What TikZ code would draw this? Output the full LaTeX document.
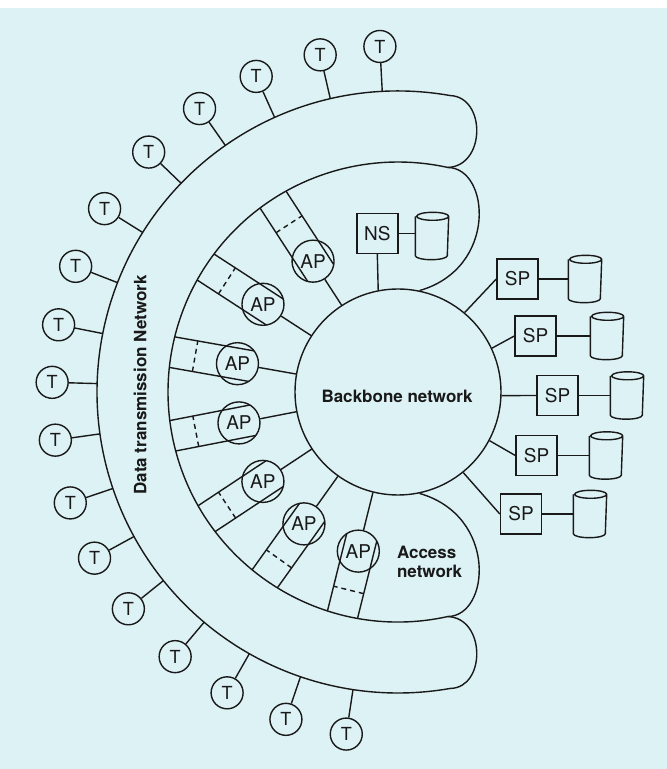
\documentclass[tikz,border=0pt]{standalone}
\usepackage{fontspec}
\setmainfont{TeX Gyre Heros}
\usetikzlibrary{shapes.geometric,calc}
\definecolor{bgc}{RGB}{221,242,245}
\definecolor{ink}{RGB}{25,25,25}
\newcommand\dbcyl[1]{%
  \draw ([yshift=-4pt]#1.north west) -- ([yshift=4pt]#1.south west)
    arc[start angle=180,end angle=360,x radius=16pt,y radius=4pt]
    -- ([yshift=-4pt]#1.north east)
    arc[start angle=0,end angle=360,x radius=16pt,y radius=4pt];}
\begin{document}
\begin{tikzpicture}[x=1pt,y=1pt,line width=1.4pt,color=ink,
  tnode/.style={circle,draw,minimum size=32pt,inner sep=0pt,font=\fontsize{18}{18}\selectfont},
  apnode/.style={circle,draw,minimum size=42pt,inner sep=0pt,font=\fontsize{19}{19}\selectfont},
  boxnode/.style={rectangle,draw,minimum width=41pt,minimum height=40pt,inner sep=0pt,font=\fontsize{19}{19}\selectfont},
  dbnode/.style={rectangle,minimum width=32pt,minimum height=46pt,inner sep=0pt,outer sep=0.7pt},
  lbl/.style={font=\bfseries\fontsize{17}{19}\selectfont},
  crossbar/.style={dash pattern=on 5pt off 4pt}]
\useasboundingbox (0,0) rectangle (667,769);
\fill[bgc] (0,0) rectangle (667,769);
\fill[white] (0,761) rectangle (667,769);
\coordinate (O) at (398,377);
% backbone
\node[circle,draw,minimum size=206pt,inner sep=0pt] (bb) at (O) {};
\node[lbl] (bblabel) at (397,373) {Backbone network};
% band
\coordinate (otop) at (450.27,673.43);
\coordinate (obot) at (450.27,80.57);
\coordinate (itop) at (447.78,601.55);
\coordinate (ibot) at (447.78,152.45);
\draw (otop) arc[start angle=80,end angle=280,radius=301]
  .. controls (486,81) and (486,151) .. (ibot)
  arc[start angle=282.5,end angle=77.5,radius=230]
  .. controls (486,603) and (486,672) .. (otop);
% access lobes
\draw (itop) .. controls (490,601) and (498,501) .. (bb.78);
\draw (bb.-78) .. controls (498,253) and (490,153) .. (ibot);
\node[lbl,rotate=90] (dtn) at (140,384) {Data transmission Network};
\node[lbl,align=left,anchor=west] (acc) at (393,207) {Access\\network};
% terminals
\foreach \i/\a in {1/93,2/103,3/114.2,4/125,5/136.1,6/148,7/158.7,8/168.8,9/178.4,10/188,11/198.7,12/208.7,13/218.8,14/229.9,15/240.4,16/251.1,17/261.4}{
  \node[tnode] (t\i) at ($(O)+(\a:346)$) {T};
  \coordinate (c\i) at ($(O)+(\a:301)$);
  \draw (t\i) -- (c\i);
}
% access points
\foreach \n/\a/\d/\q in {A/123/156/200,B/147/161/204,C/170/163/206,D/191/162/206,E/213.5/162/205,F/234.5/162/205,G/256/164/204}{
  \begin{scope}[shift={(O)},rotate=\a]
    \node[apnode] (ap\n) at (\d,0) {AP};
    \coordinate (ua\n) at (229.4,15.5);
    \coordinate (la\n) at (229.4,-15.5);
    \coordinate (ub\n) at ({\d-14.17},15.5);
    \coordinate (lb\n) at ({\d-14.17},-15.5);
    \coordinate (du\n) at (\q,15.5);
    \coordinate (dl\n) at (\q,-15.5);
    \coordinate (bc\n) at (103.6,0);
    \draw (ua\n) -- (ub\n);
    \draw (la\n) -- (lb\n);
    \draw[crossbar] (du\n) -- (dl\n);
    \draw (ap\n) -- (bc\n);
  \end{scope}
}
% name server
\node[boxnode] (ns) at (377.3,535.5) {NS};
\node[dbnode] (dbns) at (432,533) {};
\dbcyl{dbns}
\draw (ns.east) -- (ns.east -| dbns.west);
\draw (ns.south) -- (bb.101.6);
% service providers
\foreach \k/\x/\y/\dx/\ang in {1/517.5/490/585/50,2/535.5/433/607/25.6,3/557.5/373.5/627/-2,4/536.5/313.5/606/-28.5,5/521/255/590/-51.4}{
  \node[boxnode] (sp\k) at (\x,\y) {SP};
  \node[dbnode] (db\k) at (\dx,\y) {};
  \dbcyl{db\k}
  \draw (sp\k) -- (db\k);
  \draw (bb.\ang) -- (sp\k.west);
}
\end{tikzpicture}
\end{document}
